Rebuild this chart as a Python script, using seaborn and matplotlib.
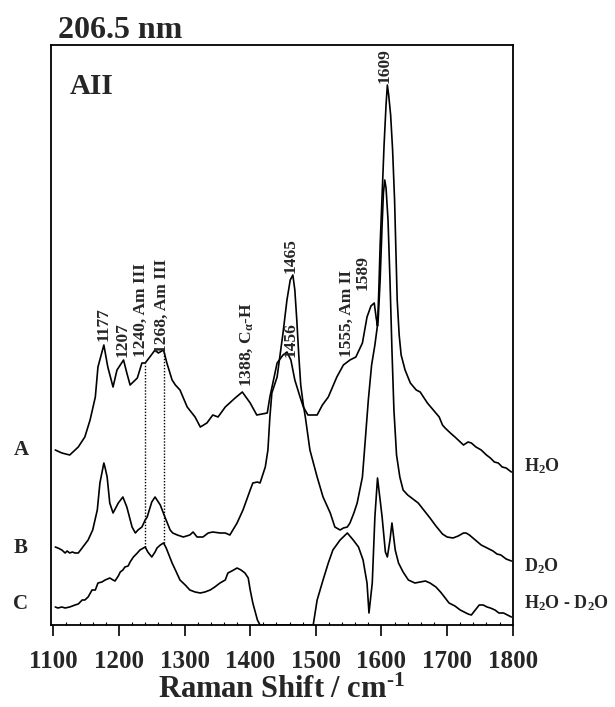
import numpy as np
import pandas as pd
import matplotlib
matplotlib.use("Agg")
import matplotlib.pyplot as plt
import seaborn as sns

# ---- UV resonance Raman spectra, 206.5 nm excitation (arbitrary intensity units) ----
# A: H2O
shift_A = [1103, 1113, 1125, 1138, 1148, 1156, 1164, 1168, 1177, 1183,
           1191, 1197, 1207, 1212, 1217, 1228, 1235, 1240, 1247, 1255,
           1260, 1268, 1273, 1281, 1286, 1293, 1304, 1316, 1324, 1334,
           1343, 1351, 1362, 1377, 1388, 1400, 1410, 1426, 1430, 1441,
           1450, 1456, 1462, 1468, 1476, 1481, 1488, 1502, 1510, 1519,
           1532, 1542, 1552, 1561, 1571, 1578, 1584, 1589, 1592, 1594,
           1596, 1598, 1601, 1604, 1607, 1609, 1611, 1614, 1617, 1620,
           1622, 1624, 1627, 1630, 1636, 1644, 1653, 1659, 1665, 1670,
           1679, 1688, 1693, 1697, 1705, 1712, 1725, 1732, 1737, 1744,
           1752, 1760, 1766, 1772, 1778, 1784, 1790, 1798]
int_A = [5, 2, 0, 8, 18, 35, 58, 88, 110, 88,
         68, 85, 95, 82, 70, 77, 92, 92, 98, 105,
         102, 105, 92, 75, 70, 65, 48, 38, 28, 32,
         40, 38, 48, 57, 63, 52, 40, 42, 58, 92,
         100, 103, 95, 75, 58, 48, 40, 40, 50, 58,
         78, 90, 95, 98, 112, 138, 149, 152, 137, 129,
         165, 210, 260, 310, 350, 370, 360, 340, 305, 255,
         205, 155, 120, 100, 85, 72, 65, 63, 57, 52,
         45, 38, 30, 27, 22, 18, 10, 13, 12, 8,
         5, 0, -3, -7, -8, -12, -13, -17]

# B: D2O
shift_B = [1103, 1107, 1113, 1118, 1121, 1125, 1129, 1133, 1138, 1145,
           1153, 1160, 1167, 1171, 1177, 1179, 1182, 1186, 1191, 1199,
           1206, 1212, 1220, 1225, 1229, 1235, 1240, 1243, 1250, 1255,
           1263, 1270, 1278, 1282, 1289, 1298, 1308, 1313, 1319, 1328,
           1336, 1343, 1354, 1362, 1369, 1380, 1389, 1400, 1404, 1411,
           1415, 1423, 1427, 1430, 1433, 1441, 1450, 1456, 1461, 1465,
           1468, 1471, 1474, 1477, 1481, 1484, 1491, 1502, 1511, 1522,
           1529, 1537, 1542, 1548, 1552, 1558, 1563, 1571, 1575, 1580,
           1585, 1590, 1595, 1598, 1601, 1603, 1605, 1607, 1610, 1613,
           1616, 1619, 1623, 1628, 1633, 1640, 1650, 1656, 1662, 1668,
           1674, 1683, 1693, 1700, 1709, 1717, 1725, 1729, 1734, 1743,
           1752, 1761, 1770, 1776, 1782, 1790, 1798]
int_B = [6, 5, 3, 0, 2, 0, 1, 0, 0, 6,
         13, 23, 43, 70, 90, 85, 76, 50, 40, 50,
         56, 46, 26, 20, 23, 26, 33, 36, 51, 56,
         48, 36, 23, 20, 18, 16, 18, 21, 16, 16,
         20, 21, 20, 20, 18, 30, 43, 63, 70, 71,
         70, 86, 103, 136, 160, 176, 220, 253, 273, 278,
         263, 233, 198, 168, 148, 136, 103, 76, 56, 40,
         26, 23, 25, 26, 30, 40, 50, 76, 110, 153,
         188, 208, 233, 273, 328, 360, 373, 365, 333, 273,
         203, 143, 98, 76, 63, 58, 53, 50, 45, 40,
         35, 27, 19, 16, 15, 17, 20, 20, 18, 13,
         8, 5, 2, -1, -2, -6, -8]

# C: H2O - D2O difference (negative lobe clipped at the frame)
shift_C = [1103, 1107, 1113, 1118, 1125, 1133, 1138, 1144, 1148, 1153,
           1159, 1164, 1168, 1174, 1179, 1186, 1191, 1194, 1199, 1202,
           1206, 1209, 1214, 1217, 1222, 1228, 1232, 1240, 1244, 1250,
           1255, 1258, 1263, 1268, 1272, 1275, 1281, 1286, 1293, 1301,
           1308, 1316, 1324, 1331, 1339, 1346, 1354, 1362, 1366, 1372,
           1380, 1386, 1392, 1397, 1400, 1404, 1411, 1415, 1496, 1502,
           1511, 1519, 1526, 1537, 1548, 1557, 1565, 1572, 1578, 1581,
           1586, 1590, 1594, 1598, 1601, 1606, 1609, 1613, 1616, 1621,
           1626, 1633, 1641, 1651, 1659, 1667, 1674, 1683, 1690, 1696,
           1703, 1712, 1720, 1726, 1732, 1737, 1743, 1749, 1755, 1761,
           1766, 1773, 1779, 1786, 1792, 1798]
int_C = [1, 0, 1, 0, 1, 3, 4, 8, 8, 11,
         18, 18, 25, 26, 28, 30, 28, 27, 32, 36,
         38, 41, 42, 46, 51, 55, 58, 61, 56, 51,
         56, 60, 63, 65, 60, 55, 45, 38, 28, 23,
         18, 16, 15, 16, 18, 21, 25, 28, 35, 37,
         40, 38, 35, 30, 18, 5, -12, -17, -17, 8,
         28, 45, 58, 68, 75, 68, 61, 48, 25, -5,
         25, 91, 130, 108, 91, 56, 51, 68, 85, 58,
         45, 36, 28, 25, 26, 27, 25, 21, 16, 11,
         5, 2, -2, -4, -6, -7, -2, 3, 3, 1,
         0, -2, -5, -5, -7, -9]

spectra = ["A", "B", "C"]
media = ["H$_2$O", "D$_2$O", "H$_2$O - D$_2$O"]
tick_values = [1100, 1200, 1300, 1400, 1500, 1600, 1700, 1800]

# band assignments: (label, position of label, bottom of label)
band_labels = [("1177", 1177, 284), ("1207", 1205, 268),
               ("1240, Am III", 1234, 268), ("1268, Am III", 1266, 272),
               ("1388, C$_α$-H", 1394, 238), ("1456", 1462, 268),
               ("1465", 1462, 352), ("1555, Am II", 1548, 268),
               ("1589", 1572, 335), ("1609", 1605, 542)]

# vertical stacking of the three traces
offsets = {"A": 170, "B": 72, "C": 17}

# ---------------------------------------------------------------------------
sns.set_theme(style="white")
plt.rcParams["font.family"] = ["Liberation Serif", "DejaVu Serif"]
plt.rcParams["font.weight"] = "bold"
plt.rcParams["mathtext.fontset"] = "custom"
plt.rcParams["mathtext.rm"] = "Liberation Serif:bold"
plt.rcParams["mathtext.bf"] = "Liberation Serif:bold"
plt.rcParams["mathtext.it"] = "Liberation Serif:italic:bold"
plt.rcParams["mathtext.default"] = "bf"

W, H = 615, 707
fig = plt.figure(figsize=(W / 100, H / 100), dpi=100)
ax = fig.add_axes([50.7 / W, 1 - 625 / H, (512.7 - 50.7) / W, (625 - 45) / H])

data = {"A": (shift_A, int_A), "B": (shift_B, int_B), "C": (shift_C, int_C)}
frames = []
for name in spectra:
    s, i = data[name]
    frames.append(pd.DataFrame({"shift": s,
                                "signal": np.asarray(i, float) + offsets[name],
                                "spectrum": name}))
df = pd.concat(frames, ignore_index=True)

for name in spectra:
    sns.lineplot(data=df[df.spectrum == name], x="shift", y="signal",
                 ax=ax, color="black", lw=1.2, sort=False,
                 estimator=None, legend=False)

# dotted guides linking the amide III bands of trace A to trace C
for pos in (1240, 1268):
    top = np.interp(pos, shift_A, int_A) + offsets["A"]
    bot = np.interp(pos, shift_C, int_C) + offsets["C"]
    ax.plot([pos, pos], [bot, top], color="black", lw=1.0,
            linestyle=(0, (1, 1.2)))

for text, x, y in band_labels:
    ax.text(x, y, text, rotation=90, ha="center", va="bottom",
            fontsize=12.5, fontweight="bold")

ax.set_xlim(1096, 1800)
ax.set_ylim(0, 580)
ax.set_yticks([])
ax.set_xticks(tick_values)
ax.set_xticklabels([str(v) for v in tick_values], fontsize=18, fontweight="bold")
ax.set_xticks(np.arange(1120, 1800, 20), minor=True)
ax.tick_params(axis="x", which="major", direction="out", length=8,
               width=1.2, pad=10, color="black", bottom=True)
ax.tick_params(axis="x", which="minor", direction="in", length=2.5,
               width=0.8, color="black", bottom=True)
ax.set_xlabel(r"Raman Shift / cm$^{\text{-}1}$", fontsize=22,
              fontweight="bold", labelpad=2)
ax.set_ylabel("")
for sp in ax.spines.values():
    sp.set_visible(True)
    sp.set_color("black")
    sp.set_linewidth(1.3)

# trace letters on the left and solvent labels on the right
for name, yc in zip(spectra, (450, 548, 604)):
    fig.text(21 / W, 1 - yc / H, name, ha="center", va="center",
             fontsize=15, fontweight="bold")
for lab, yc in zip(media, (466, 566, 603)):
    fig.text(524 / W, 1 - yc / H, lab, ha="left", va="center",
             fontsize=13, fontweight="bold")

fig.text(58 / W, 1 - 38 / H, "206.5 nm", ha="left", va="baseline",
         fontsize=23, fontweight="bold")
fig.text(70 / W, 1 - 94 / H, "AII", ha="left", va="baseline",
         fontsize=21, fontweight="bold")

fig.savefig("out.png", dpi=100, facecolor="white")
